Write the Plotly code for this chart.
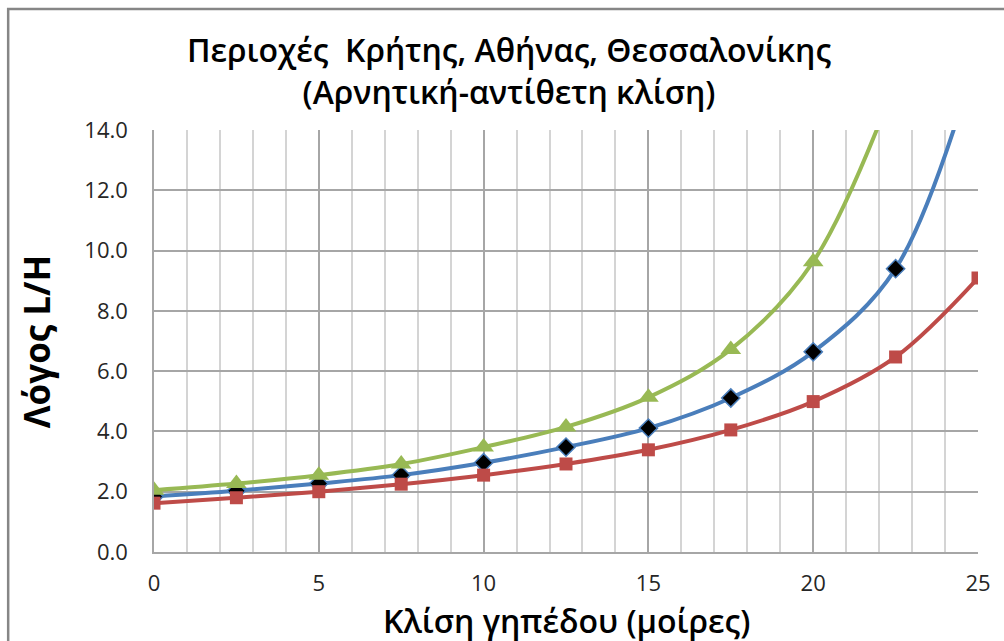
import plotly.graph_objects as go

x_vals = [0, 2.5, 5, 7.5, 10, 12.5, 15, 17.5, 20, 22.5, 25]
blue_vals = [1.84, 2.03, 2.27, 2.55, 2.96, 3.48, 4.11, 5.11, 6.64, 9.40, 16.6]
red_vals = [1.62, 1.80, 2.00, 2.25, 2.55, 2.92, 3.39, 4.05, 4.99, 6.47, 9.09]
green_x = [0, 2.5, 5, 7.5, 10, 12.5, 15, 17.5, 20, 22.5]
green_vals = [2.05, 2.27, 2.55, 2.92, 3.48, 4.15, 5.13, 6.72, 9.63, 15.6]

title_text = "Περιοχές  Κρήτης, Αθήνας, Θεσσαλονίκης<br>(Αρνητική-αντίθετη κλίση)"
x_title = "Κλίση γηπέδου (μοίρες)"
y_title = "Λόγος L/H"

fam = "Open Sans, sans-serif"
tickfont = dict(family=fam, size=22, color="#262626")

fig = go.Figure()
fig.add_trace(go.Scatter(
    x=x_vals, y=blue_vals, mode="lines+markers", name="blue",
    line=dict(color="#4A7EBB", width=4, shape="spline", smoothing=1),
    marker=dict(symbol="diamond", size=14, color="black", line=dict(color="#4A7EBB", width=1.5)),
))
fig.add_trace(go.Scatter(
    x=x_vals, y=red_vals, mode="lines+markers", name="red",
    line=dict(color="#BE4B48", width=4, shape="spline", smoothing=1),
    marker=dict(symbol="square", size=13, color="#BE4B48"),
))
fig.add_trace(go.Scatter(
    x=green_x, y=green_vals, mode="lines+markers", name="green",
    line=dict(color="#98B954", width=4, shape="spline", smoothing=1),
    marker=dict(symbol="triangle-up", size=18, color="#98B954"),
))

fig.update_layout(
    width=1004, height=641,
    margin=dict(l=154, r=26, t=130, b=89),
    paper_bgcolor="white", plot_bgcolor="white",
    showlegend=False,
    title=dict(text=title_text, x=509 / 1004, xanchor="center", xref="container",
               y=1 - 62 / 641, yanchor="middle", yref="container",
               font=dict(family=fam, size=32, weight=600, color="black")),
    xaxis=dict(range=[0, 25], dtick=5, tick0=0, showgrid=True,
               gridcolor="#A6A6A6", gridwidth=1.5,
               minor=dict(dtick=1, showgrid=True, gridcolor="#D4D4D4", gridwidth=1.5),
               showline=True, linecolor="#A6A6A6", linewidth=1.5,
               zeroline=False, ticks="", tickfont=tickfont, ticklabelstandoff=11),
    yaxis=dict(range=[0, 14], dtick=2, tick0=0, tickformat=".1f", showgrid=True,
               gridcolor="#A6A6A6", gridwidth=1.5,
               showline=True, linecolor="#A6A6A6", linewidth=1.5,
               zeroline=False, ticks="", tickfont=tickfont, ticklabelstandoff=20),
    annotations=[
        dict(text=x_title, xref="paper", yref="paper", x=0.5, y=(552 - 620) / 422,
             xanchor="center", yanchor="middle", showarrow=False,
             font=dict(family=fam, size=32, weight=600, color="black")),
        dict(text="<b>" + y_title + "</b>", xref="paper", yref="paper",
             x=(36 - 154) / 825, y=0.5, xanchor="center", yanchor="middle",
             textangle=-90, showarrow=False,
             font=dict(family=fam, size=35, color="black")),
    ],
    shapes=[
        dict(type="rect", xref="paper", yref="paper",
             x0=(8 - 154) / 825, x1=1.1, y0=-0.3, y1=(552 - 9) / 422,
             line=dict(color="#868686", width=2.5), fillcolor="rgba(0,0,0,0)", layer="below"),
    ],
)

fig.write_html("out.html")
